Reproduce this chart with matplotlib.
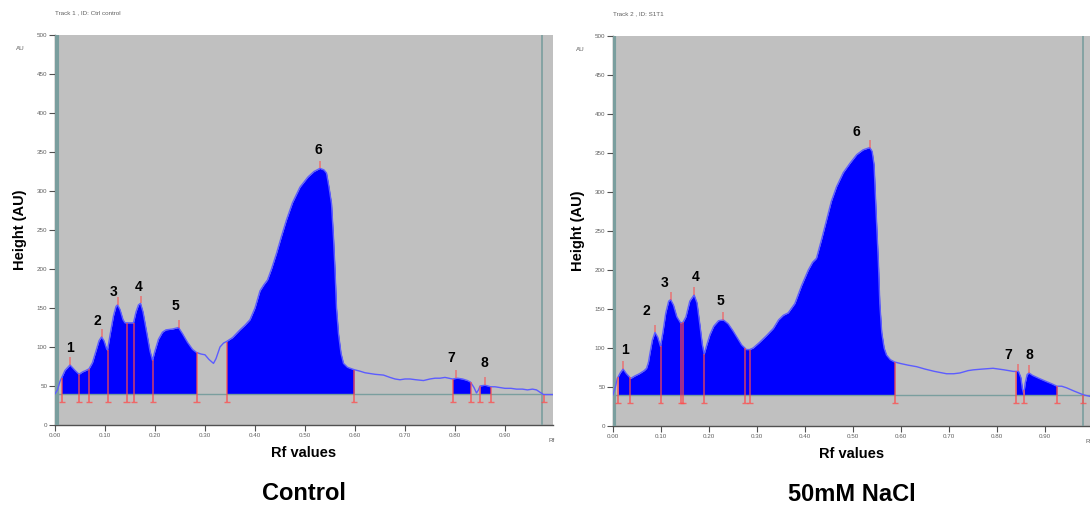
import matplotlib
matplotlib.use("Agg")
import matplotlib.pyplot as plt
import numpy as np

plt.rcParams['font.family'] = ['Liberation Sans', 'DejaVu Sans']

# ---- Control lane: densitometry trace (Rf, height in AU) ----
ctrl_rf = [0.000, 0.005, 0.010, 0.013, 0.020, 0.030, 0.040, 0.048, 0.055, 0.062,
           0.068, 0.075, 0.082, 0.088, 0.093, 0.098, 0.103, 0.105, 0.110, 0.117,
           0.122, 0.125, 0.130, 0.136, 0.140, 0.150, 0.157, 0.162, 0.167, 0.171,
           0.176, 0.183, 0.190, 0.195, 0.200, 0.207, 0.215, 0.222, 0.235, 0.247,
           0.255, 0.265, 0.275, 0.283, 0.292, 0.300, 0.308, 0.317, 0.322, 0.330,
           0.337, 0.343, 0.355, 0.370, 0.380, 0.390, 0.400, 0.410, 0.418, 0.425,
           0.433, 0.443, 0.453, 0.463, 0.475, 0.490, 0.506, 0.518, 0.530, 0.538,
           0.543, 0.548, 0.553, 0.557, 0.560, 0.563, 0.567, 0.572, 0.577, 0.585,
           0.598, 0.610, 0.620, 0.630, 0.640, 0.657, 0.670, 0.680, 0.690, 0.700,
           0.710, 0.722, 0.737, 0.750, 0.760, 0.770, 0.780, 0.795, 0.805, 0.815,
           0.825, 0.831, 0.838, 0.843, 0.847, 0.850, 0.860, 0.866, 0.871, 0.880,
           0.890, 0.900, 0.912, 0.923, 0.935, 0.945, 0.955, 0.963, 0.970, 0.977,
           0.990, 0.996]
ctrl_h = [40, 45, 56, 60, 70, 77, 70, 65, 68, 70,
          72, 80, 95, 108, 113, 108, 98, 96, 115, 140,
          152, 154, 148, 135, 131, 131, 131, 145, 154, 156,
          145, 120, 95, 83, 95, 110, 119, 122, 123, 125,
          117, 106, 97, 93, 91, 90, 84, 79, 85, 100,
          105, 107, 112, 122, 128, 135, 150, 172, 180, 186,
          200, 220, 242, 263, 285, 305, 318, 325, 329, 327,
          323, 305, 284, 240, 199, 150, 117, 92, 79, 74,
          71, 69, 67, 66, 65, 64, 61, 59, 58, 59,
          59, 58, 57, 59, 60, 60, 61, 59, 60, 59,
          57, 55, 48, 41, 45, 50, 51, 50, 49, 49,
          48, 47, 47, 46, 46, 45, 46, 45, 42, 39,
          39, 39]
ctrl_bounds = [0.013, 0.048, 0.068, 0.105, 0.143, 0.157, 0.195, 0.283, 0.343,
               0.598, 0.795, 0.831, 0.850, 0.871, 0.977]
ctrl_fills = [(0.013, 0.283), (0.343, 0.598), (0.795, 0.831), (0.850, 0.871)]
ctrl_peak_rf = [0.030, 0.093, 0.125, 0.171, 0.247, 0.530, 0.801, 0.860]
ctrl_peak_h = [77, 113, 154, 156, 125, 329, 60, 51]
ctrl_lab_rf = [0.030, 0.084, 0.118, 0.168, 0.240, 0.526, 0.792, 0.858]
ctrl_lab_h = [99, 133, 170, 177, 153, 353, 86, 80]

# ---- 50mM NaCl lane ----
nacl_rf = [0.000, 0.005, 0.009, 0.015, 0.021, 0.028, 0.037, 0.045, 0.055, 0.065,
           0.070, 0.074, 0.077, 0.082, 0.0875, 0.093, 0.099, 0.104, 0.110, 0.116,
           0.120, 0.126, 0.133, 0.141, 0.146, 0.152, 0.160, 0.169, 0.175, 0.181,
           0.186, 0.190, 0.196, 0.202, 0.210, 0.220, 0.230, 0.240, 0.250, 0.258,
           0.268, 0.278, 0.285, 0.292, 0.305, 0.320, 0.334, 0.345, 0.355, 0.365,
           0.379, 0.393, 0.407, 0.416, 0.424, 0.435, 0.445, 0.455, 0.466, 0.480,
           0.494, 0.508, 0.521, 0.535, 0.540, 0.544, 0.549, 0.553, 0.556, 0.560,
           0.565, 0.570, 0.578, 0.587, 0.600, 0.615, 0.633, 0.650, 0.670, 0.695,
           0.710, 0.723, 0.740, 0.751, 0.770, 0.792, 0.815, 0.834, 0.840, 0.845,
           0.850, 0.853, 0.856, 0.859, 0.863, 0.867, 0.874, 0.888, 0.903, 0.915,
           0.925, 0.935, 0.945, 0.960, 0.980, 0.994]
nacl_h = [40, 50, 61, 68, 73, 67, 61, 64, 67, 71,
          74, 82, 93, 110, 120, 114, 102, 120, 145, 160,
          162, 155, 140, 132, 133, 140, 160, 168, 158, 130,
          105, 92, 105, 117, 128, 135, 136, 131, 122, 114,
          104, 98, 98, 100, 107, 116, 125, 136, 142, 145,
          157, 180, 200, 210, 215, 240, 264, 288, 307, 325,
          337, 348, 354, 357, 352, 335, 264, 210, 157, 120,
          100, 91, 85, 82, 80, 78, 76, 73, 70, 67,
          67, 68, 71, 72, 73, 74, 72, 70, 70, 70,
          62, 48, 41, 55, 66, 68, 65, 61, 57, 54,
          51, 51, 49, 45, 40, 38]
nacl_bounds = [0.011, 0.035, 0.099, 0.141, 0.146, 0.190, 0.275, 0.285, 0.587,
               0.840, 0.857, 0.925, 0.980]
nacl_fills = [(0.011, 0.587), (0.840, 0.856), (0.857, 0.925)]
nacl_peak_rf = [0.021, 0.0875, 0.120, 0.169, 0.230, 0.535, 0.845, 0.867]
nacl_peak_h = [73, 120, 162, 168, 136, 357, 70, 68]
nacl_lab_rf = [0.025, 0.069, 0.108, 0.173, 0.223, 0.508, 0.823, 0.867]
nacl_lab_h = [97, 147, 183, 191, 160, 377, 91, 91]

peak_names = ['1', '2', '3', '4', '5', '6', '7', '8']
y_ticks = list(range(0, 501, 50))
x_ticks = [0.0, 0.1, 0.2, 0.3, 0.4, 0.5, 0.6, 0.7, 0.8, 0.9]
baseline = 40

GRAY = '#c0c0c0'
TEAL = '#7a9e9e'
BLUE = '#0000ff'
TRACE = '#5c5cff'
RED = '#ff4a4a'


def draw_lane(ax, rf, h, bounds, fills, pk_rf, pk_h, lab_rf, lab_h, xmax,
              right_line, track, panel_title):
    rf = np.array(rf)
    h = np.array(h)
    ax.set_facecolor(GRAY)
    ax.set_xlim(0, xmax)
    ax.set_ylim(0, 500)

    # filled peak areas between baseline and trace
    for a, b in fills:
        inside = (rf > a) & (rf < b)
        xs = np.concatenate([[a], rf[inside], [b]])
        ys = np.concatenate([[np.interp(a, rf, h)], h[inside], [np.interp(b, rf, h)]])
        ax.fill_between(xs, baseline, ys, color=BLUE, lw=0, zorder=2)

    ax.axhline(baseline, color=TEAL, lw=1, zorder=3)
    ax.axvline(0.003, color=TEAL, lw=3, zorder=3)
    ax.axvline(right_line, color=TEAL, lw=1.2, zorder=3)
    ax.plot(rf, h, color=TRACE, lw=1, zorder=4)

    # peak boundary markers
    tops = np.interp(bounds, rf, h)
    ax.vlines(bounds, 30, tops, color=RED, lw=1.2, alpha=0.75, zorder=5)
    ax.hlines([30] * len(bounds), np.array(bounds) - 0.006, np.array(bounds) + 0.006,
              color=RED, lw=1, alpha=0.75, zorder=5)
    # peak maxima markers and numbers
    ax.vlines(pk_rf, np.array(pk_h), np.array(pk_h) + 10, color=RED, lw=1.2,
              alpha=0.6, zorder=5)
    for name, x, y in zip(peak_names, lab_rf, lab_h):
        ax.text(x, y, name, ha='center', va='center', fontsize=10,
                fontweight='bold', zorder=6)

    for s in ['top', 'right']:
        ax.spines[s].set_visible(False)
    for s in ['left', 'bottom']:
        ax.spines[s].set_color('#505050')
        ax.spines[s].set_linewidth(1)
    ax.set_yticks(y_ticks)
    ax.set_xticks(x_ticks)
    ax.set_xticklabels(['%.2f' % v for v in x_ticks])
    ax.tick_params(labelsize=4.5, labelcolor='#606060', color='#505050',
                   length=4, width=0.8, pad=1.5)

    ax.set_ylabel('Height (AU)', fontsize=10.5, fontweight='bold', labelpad=7)
    ax.set_xlabel('Rf values', fontsize=10.5, fontweight='bold', labelpad=6)
    ax.text(-0.078, 0.965, 'AU', transform=ax.transAxes, fontsize=4.5,
            color='#606060', va='center')
    ax.text(0.99, -0.04, 'Rf', transform=ax.transAxes, fontsize=4.5,
            color='#606060', va='center', clip_on=False)
    ax.text(0.0, 1.056, track, transform=ax.transAxes, fontsize=4.5,
            color='#606060', va='center')
    ax.text(0.5, -0.175, panel_title, transform=ax.transAxes, ha='center',
            va='center', fontsize=17, fontweight='bold')


fig = plt.figure(figsize=(10.9, 5.12), dpi=100)
ax1 = fig.add_axes([55 / 1090, 1 - 425 / 512, 498 / 1090, 390 / 512])
ax2 = fig.add_axes([613 / 1090, 1 - 426 / 512, 477 / 1090, 390 / 512])

draw_lane(ax1, ctrl_rf, ctrl_h, ctrl_bounds, ctrl_fills, ctrl_peak_rf, ctrl_peak_h,
          ctrl_lab_rf, ctrl_lab_h, 0.996, 0.974, 'Track 1 , ID: Ctrl control', 'Control')
draw_lane(ax2, nacl_rf, nacl_h, nacl_bounds, nacl_fills, nacl_peak_rf, nacl_peak_h,
          nacl_lab_rf, nacl_lab_h, 0.994, 0.980, 'Track 2 , ID: S1T1', '50mM NaCl')

fig.savefig('out.png', dpi=100)
